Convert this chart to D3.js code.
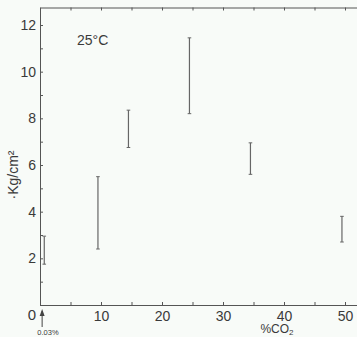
<!DOCTYPE html>
<html lang="en">
	<head>
		<meta charset="utf-8">
		<title>D3: Kg/cm2 vs %CO2</title>
		<script type="text/javascript" src="https://d3js.org/d3.v7.min.js"></script>
		<style>
			body { margin: 0; background: #f8fbf8; }
			svg { display: block; }
			text { font-family: "Liberation Sans", sans-serif; fill: #3a3a3a; }
			.axis path, .axis line { stroke: #555; }
		</style>
	</head>
	<body>
		<script type="text/javascript">

			//Width and height
			var w = 357;
			var h = 337;

			//Data: %CO2 and range of pressure (Kg/cm2)
			var co2 = [0.7, 9.5, 14.5, 24.5, 34.5, 49.5];
			var lowKg = [1.75, 2.4, 6.75, 8.2, 5.6, 2.7];
			var highKg = [2.95, 5.5, 8.35, 11.45, 6.95, 3.8];
			var xTicks = [0, 5, 10, 15, 20, 25, 30, 35, 40, 45, 50];
			var yTicks = [0, 1, 2, 3, 4, 5, 6, 7, 8, 9, 10, 11, 12];

			var x = d3.scaleLinear().domain([0, 52]).range([40, 357.2]);
			var y = d3.scaleLinear().domain([0, 12.75]).range([305, 7.5]);

			var svg = d3.select("body")
						.append("svg")
						.attr("width", w)
						.attr("height", h);

			//Axes with inward ticks
			svg.append("g")
				.attr("class", "axis")
				.attr("transform", "translate(0," + y(0) + ")")
				.call(d3.axisBottom(x).tickValues(xTicks).tickSize(-3).tickSizeOuter(0).tickPadding(6)
					.tickFormat(function(d) { return (d > 0 && d % 10 === 0) ? d : ""; }));

			svg.append("g")
				.attr("class", "axis")
				.attr("transform", "translate(0," + y(12.75) + ")")
				.call(d3.axisTop(x).tickValues(xTicks).tickSize(-3).tickSizeOuter(0).tickFormat(""));

			svg.append("g")
				.attr("class", "axis")
				.attr("transform", "translate(" + x(0) + ",0)")
				.call(d3.axisLeft(y).tickValues(yTicks).tickSize(-3).tickSizeOuter(0).tickPadding(4)
					.tickFormat(function(d) { return (d > 0 && d % 2 === 0) ? d : ""; }));

			svg.selectAll(".axis text")
				.attr("font-size", 14)
				.attr("font-family", "Liberation Sans, sans-serif")
				.attr("fill", "#3a3a3a");

			//Zero at the corner
			svg.append("text")
				.attr("x", x(0) - 8)
				.attr("y", y(0) + 15)
				.attr("text-anchor", "middle")
				.attr("font-size", 15)
				.text("0");

			//Arrow for 0.03%
			svg.append("line")
				.attr("x1", x(0.35)).attr("x2", x(0.35))
				.attr("y1", 327).attr("y2", 311)
				.attr("stroke", "#444");
			svg.append("path")
				.attr("d", "M" + (x(0.35) - 2.5) + ",316 L" + x(0.35) + ",309 L" + (x(0.35) + 2.5) + ",316 Z")
				.attr("fill", "#444");
			svg.append("text")
				.attr("x", 48)
				.attr("y", 335)
				.attr("text-anchor", "middle")
				.attr("font-size", 7.5)
				.text("0.03%");

			//Error bars
			var bars = svg.selectAll("g.bar")
				.data(co2)
				.enter()
				.append("g")
				.attr("class", "bar");

			bars.append("line")
				.attr("x1", function(d) { return x(d); })
				.attr("x2", function(d) { return x(d); })
				.attr("y1", function(d, i) { return y(lowKg[i]); })
				.attr("y2", function(d, i) { return y(highKg[i]); })
				.attr("stroke", "#666")
				.attr("stroke-width", 1.2);

			bars.append("line")
				.attr("x1", function(d) { return x(d) - 1.8; })
				.attr("x2", function(d) { return x(d) + 1.8; })
				.attr("y1", function(d, i) { return y(lowKg[i]); })
				.attr("y2", function(d, i) { return y(lowKg[i]); })
				.attr("stroke", "#666");

			bars.append("line")
				.attr("x1", function(d) { return x(d) - 1.8; })
				.attr("x2", function(d) { return x(d) + 1.8; })
				.attr("y1", function(d, i) { return y(highKg[i]); })
				.attr("y2", function(d, i) { return y(highKg[i]); })
				.attr("stroke", "#666");

			//Labels
			svg.append("text")
				.attr("x", 77)
				.attr("y", 45)
				.attr("font-size", 14)
				.text("25°C");

			svg.append("text")
				.attr("transform", "translate(18,175) rotate(-90)")
				.attr("text-anchor", "middle")
				.attr("font-size", 14)
				.text("·Kg/cm²");

			var co2Label = svg.append("text")
				.attr("x", 277)
				.attr("y", 333)
				.attr("text-anchor", "middle")
				.attr("font-size", 12);
			co2Label.append("tspan").text("%CO");
			co2Label.append("tspan").attr("font-size", 8).attr("dy", 2).text("2");

		</script>
	</body>
</html>
